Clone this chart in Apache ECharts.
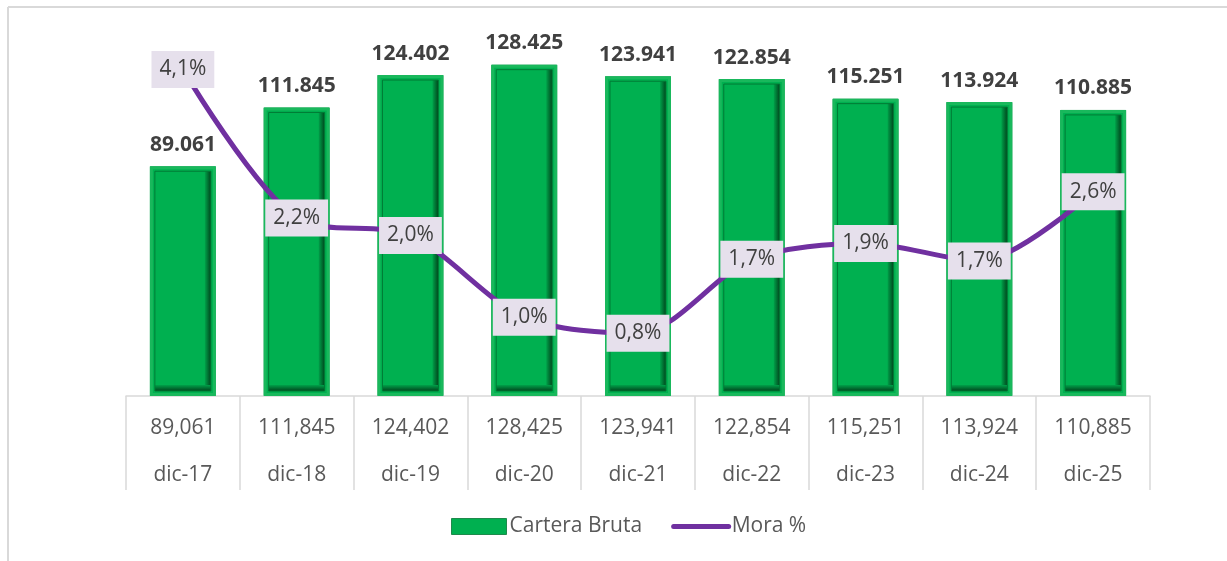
<!DOCTYPE html>
<html>
<head>
<meta charset="utf-8">
<script src="https://cdn.jsdelivr.net/npm/echarts@6/dist/echarts.min.js"></script>
<style>
html,body{margin:0;padding:0;background:#fff;}
#c{width:1227px;height:561px;}
</style>
</head>
<body>
<div id="c"></div>
<script>
var categories = ['dic-17','dic-18','dic-19','dic-20','dic-21','dic-22','dic-23','dic-24','dic-25'];
var carteraBruta = [89061, 111845, 124402, 128425, 123941, 122854, 115251, 113924, 110885];
var moraPct = [0.0411, 0.0224, 0.0202, 0.0099, 0.0079, 0.0172, 0.0192, 0.0170, 0.0257];

var FONT = '"Open Sans", "Noto Sans", sans-serif';
function thouDot(v){ return String(v).replace(/\B(?=(\d{3})+(?!\d))/g, '.'); }
function thouComma(v){ return String(v).replace(/\B(?=(\d{3})+(?!\d))/g, ','); }
function pct(v){ return (v*100).toFixed(1).replace('.', ',') + '%'; }

var chart = echarts.init(document.getElementById('c'), null, {renderer:'canvas'});
var BW = 66;
chart.setOption({
  animation: false,
  backgroundColor: '#ffffff',
  graphic: [
    {type:'line', shape:{x1:8,y1:7,x2:1227,y2:7}, style:{stroke:'#d9d9d9', lineWidth:2}, silent:true},
    {type:'line', shape:{x1:8,y1:7,x2:8,y2:561}, style:{stroke:'#d9d9d9', lineWidth:2}, silent:true}
  ],
  grid: {left:126, right:77, top:9, bottom:165},
  legend: {
    data: [
      {name:'Cartera Bruta', icon:'rect', itemStyle:{borderColor:'#1f8a4c', borderWidth:1}},
      {name:'Mora %', itemStyle:{opacity:0}, lineStyle:{width:5, cap:'round', color:'#7030A0'}}
    ],
    bottom: 19,
    left: 446,
    itemWidth: 55,
    itemHeight: 16,
    itemGap: 29,
    textStyle: {fontFamily: FONT, fontSize: 21, color: '#595959', padding:[0,0,0,-2]}
  },
  xAxis: {
    type: 'category',
    data: categories,
    boundaryGap: true,
    axisLine: {show:true, lineStyle:{color:'#d9d9d9', width:1.5}},
    axisTick: {show:true, length:94, lineStyle:{color:'#d9d9d9', width:1.5}},
    axisLabel: {
      margin: 9,
      interval: 0,
      formatter: function(val, idx){ return '{v|' + thouComma(carteraBruta[idx]) + '}\n{c|' + val + '}'; },
      rich: {
        v: {fontFamily: FONT, fontSize: 21, color:'#595959', lineHeight:47},
        c: {fontFamily: FONT, fontSize: 21, color:'#595959', lineHeight:47}
      }
    }
  },
  yAxis: [
    {type:'value', min:0, max:150000, show:false, splitLine:{show:false}},
    {type:'value', min:0, max:0.0487, show:false, splitLine:{show:false}}
  ],
  series: [
    {
      name: 'Cartera Bruta',
      type: 'bar',
      data: carteraBruta,
      barWidth: BW,
      z: 2,
      itemStyle: {color:'#00B050', borderColor:'#3fa86a', borderWidth:1},
      label: {
        show: true, position: 'top', distance: 11,
        fontFamily: FONT, fontSize: 21, fontWeight: 'bold', color: '#404040',
        formatter: function(p){ return thouDot(p.value); }
      }
    },
    {
      name: 'bevel',
      type: 'custom',
      data: carteraBruta,
      silent: true,
      z: 2.5,
      renderItem: function(params, api){
        var top = api.coord([api.value(0), api.value(1)]);
        var base = api.coord([api.value(0), 0]);
        var x = top[0] - BW/2, y = top[1], w = BW, h = base[1] - top[1];
        var ins = 5;
        return {
          type: 'group',
          children: [
            {type:'rect', shape:{x:x+1.5, y:y+1.5, width:w-3, height:h-3}, style:{fill:'none', stroke:'#19b85c', lineWidth:3}},
            {type:'rect', shape:{x:x+w-ins-6, y:y+ins, width:6, height:h-2*ins},
              style:{fill: new echarts.graphic.LinearGradient(0,0,1,0,[{offset:0,color:'#00a049'},{offset:1,color:'#00461d'}])}},
            {type:'rect', shape:{x:x+ins, y:y+h-ins-6, width:w-2*ins, height:6},
              style:{fill: new echarts.graphic.LinearGradient(0,0,0,1,[{offset:0,color:'#00a049'},{offset:1,color:'#00461d'}])}},
            {type:'rect', shape:{x:x+ins, y:y+ins, width:w-2*ins, height:h-2*ins}, style:{fill:'none', stroke:'#007a35', lineWidth:1}}
          ]
        };
      }
    },
    {
      name: 'Mora %',
      type: 'line',
      yAxisIndex: 1,
      data: moraPct,
      smooth: 0.3,
      symbol: 'circle',
      symbolSize: 2,
      showSymbol: true,
      z: 5,
      lineStyle: {color:'#7030A0', width:5, cap:'round'},
      itemStyle: {color:'#7030A0'},
      label: {
        show: true, position: 'inside',
        fontFamily: FONT, fontSize: 21, color:'#404040', lineHeight: 26,
        backgroundColor: '#E6E0EC',
        padding: [6, 8, 5, 8],
        formatter: function(p){ return pct(p.value); }
      }
    }
  ]
});
</script>
</body>
</html>
